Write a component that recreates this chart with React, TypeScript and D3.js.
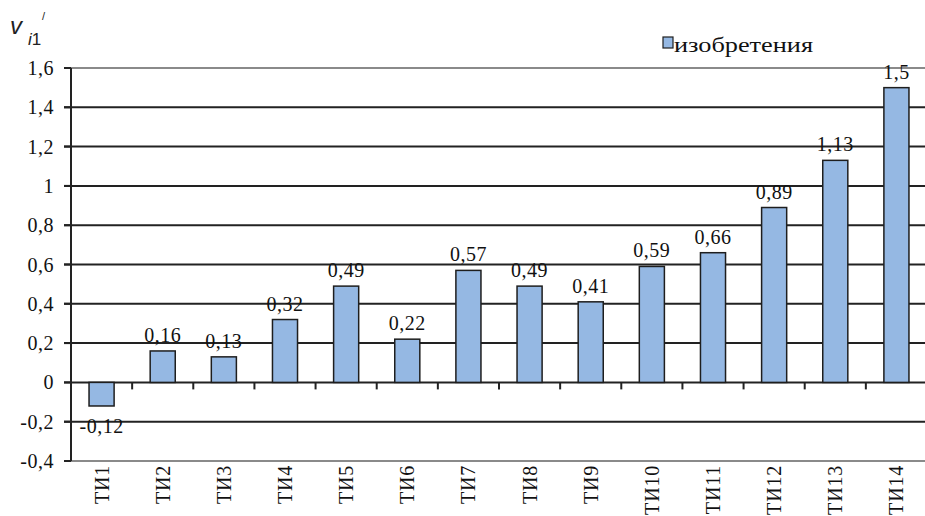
import React from "react";
import * as d3 from "d3";

const categories = ["ТИ1","ТИ2","ТИ3","ТИ4","ТИ5","ТИ6","ТИ7","ТИ8","ТИ9","ТИ10","ТИ11","ТИ12","ТИ13","ТИ14"];
const values = [-0.12, 0.16, 0.13, 0.32, 0.49, 0.22, 0.57, 0.49, 0.41, 0.59, 0.66, 0.89, 1.13, 1.5];
const yTicks = [-0.4, -0.2, 0, 0.2, 0.4, 0.6, 0.8, 1, 1.2, 1.4, 1.6];
const seriesName = "изобретения";

const W = 925, H = 516;
const left = 71, right = 927, top = 68, bottom = 461;
const serif = "Liberation Serif";
const sans = "Liberation Sans";
const fmt = (v: number) => String(Math.round(v * 100) / 100).replace(".", ",");

export default function App() {
  const x = d3.scaleBand<string>().domain(categories).range([left, right]).paddingInner(0.59).paddingOuter(0.295);
  const y = d3.scaleLinear().domain([-0.4, 1.6]).range([bottom, top]);
  const step = x.step();
  return (
    <div style={{ position: "fixed", left: 0, top: 0 }}>
      <svg width={W} height={H} style={{ display: "block", background: "#fff" }}>
        {yTicks.map((t) => (
          <g key={t}>
            <line x1={left - 7} x2={W} y1={y(t)} y2={y(t)}
              stroke={t === 1.6 || t === -0.4 ? "#8a8a8a" : "#222"} strokeWidth={2} />
            <line x1={left - 7} x2={left} y1={y(t)} y2={y(t)} stroke="#222" strokeWidth={2} />
            <text x={54} y={y(t)} dy="0.35em" textAnchor="end" fontFamily={serif} fontSize={20} letterSpacing={0.5} fill="#111">
              {fmt(t)}
            </text>
          </g>
        ))}
        {categories.map((c, i) => (
          <line key={"tk" + c} x1={left + step * (i + 1)} x2={left + step * (i + 1)} y1={y(0)} y2={y(0) + 7}
            stroke="#222" strokeWidth={2} />
        ))}
        {categories.map((c, i) => {
          const v = values[i];
          const bx = x(c)!;
          return (
            <g key={c}>
              <rect x={bx} y={Math.min(y(v), y(0))} width={x.bandwidth()} height={Math.abs(y(v) - y(0))}
                fill="#95b8e3" stroke="#1e1e1e" strokeWidth={1.5} />
              <text x={bx + x.bandwidth() / 2} y={v >= 0 ? y(v) - 9 : y(v) + 13} dy={v >= 0 ? 0 : "0.71em"}
                textAnchor="middle" fontFamily={serif} fontSize={20} letterSpacing={0.5} fill="#111">
                {fmt(v)}
              </text>
              <text transform={`translate(${bx + x.bandwidth() / 2},${bottom + 4}) rotate(-90)`}
                dy="0.35em" textAnchor="end" fontFamily={serif} fontSize={20} letterSpacing={0.8} fill="#111">
                {c}
              </text>
            </g>
          );
        })}
        <line x1={left} x2={left} y1={top} y2={bottom} stroke="#222" strokeWidth={2} />
        <text x={10} y={34} fontFamily={sans} fontSize={24} fontStyle="italic" fill="#222">v</text>
        <text x={28} y={45} fontFamily={sans} fontSize={17} fill="#222">
          <tspan fontStyle="italic">i</tspan>1
        </text>
        <text x={42} y={20} fontFamily={sans} fontSize={11} fill="#222">/</text>
        <rect x={663} y={37} width={10} height={11} fill="#95b8e3" stroke="#1e1e1e" strokeWidth={1.2} />
        <text x={674} y={52} fontFamily={serif} fontSize={20} textLength={139} lengthAdjust="spacingAndGlyphs" fill="#111">{seriesName}</text>
      </svg>
    </div>
  );
}
